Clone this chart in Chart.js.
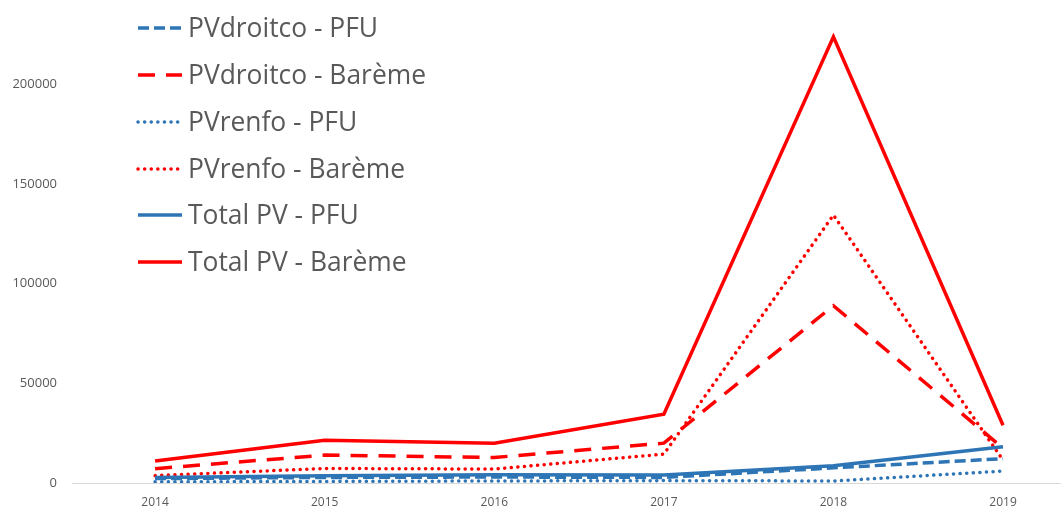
<!DOCTYPE html>
<html>
<head>
<meta charset="utf-8">
<script src="https://cdn.jsdelivr.net/npm/chart.js@4.4.1/dist/chart.umd.min.js"></script>
<style>
    html, body { margin: 0; padding: 0; background: #fff; }
    #wrap { width: 1061px; height: 509px; position: relative; }
</style>
</head>
<body>
<div id="wrap"><canvas id="myChart"></canvas></div>
<script>
const years = ['2014', '2015', '2016', '2017', '2018', '2019'];
const yTicks = [0, 50000, 100000, 150000, 200000];

const seriesNames = [
    'PVdroitco - PFU',
    'PVdroitco - Barème',
    'PVrenfo - PFU',
    'PVrenfo - Barème',
    'Total PV - PFU',
    'Total PV - Barème'
];

const droitcoPFU = [2200, 2800, 3000, 2800, 7600, 12200];
const droitcoBareme = [7200, 14000, 12800, 20000, 89000, 17500];
const renfoPFU = [600, 800, 1000, 1200, 1000, 6000];
const renfoBareme = [3700, 7300, 7000, 14500, 134500, 11500];
const totalPFU = [2800, 3700, 4200, 4000, 8700, 18200];
const totalBareme = [11000, 21500, 20000, 34500, 224000, 29000];

const blue = '#2E75B6';
const red = '#FF0000';
const textGray = '#595959';

function pts(arr) {
    return arr.map(function (v, i) { return {x: i, y: v}; });
}

const ctx = document.getElementById('myChart');

// legend drawn inside the plot, Excel style
const insideLegend = {
    id: 'insideLegend',
    afterDraw: function (chart) {
        const c = chart.ctx;
        const rowY = [28, 75, 122, 169, 215, 262];
        c.save();
        c.font = '27px "Open Sans"';
        const sx = 238 / c.measureText('PVdroitco - Barème').width;
        chart.data.datasets.forEach(function (ds, i) {
            const y = rowY[i];
            c.beginPath();
            c.strokeStyle = ds.borderColor;
            c.lineWidth = ds.borderWidth;
            c.lineCap = ds.borderCapStyle || 'butt';
            c.setLineDash(ds.legendDash || []);
            c.moveTo(138, y);
            c.lineTo(182, y);
            c.stroke();
            c.setLineDash([]);
            c.fillStyle = textGray;
            c.textBaseline = 'middle';
            c.save();
            c.translate(188, y + 1);
            c.scale(sx, 1);
            c.fillText(ds.label, 0, 0);
            c.restore();
        });
        c.restore();
    }
};

const myChart = new Chart(ctx, {
    type: 'line',
    data: {
        datasets: [{
            label: seriesNames[0],
            data: pts(droitcoPFU),
            borderColor: blue,
            borderWidth: 3.5,
            borderDash: [11, 5],
            legendDash: [11, 5],
            order: 5
        }, {
            label: seriesNames[1],
            data: pts(droitcoBareme),
            borderColor: red,
            borderWidth: 3.5,
            borderDash: [17, 11],
            legendDash: [17, 11],
            order: 4
        }, {
            label: seriesNames[2],
            data: pts(renfoPFU),
            borderColor: blue,
            borderWidth: 3.5,
            borderDash: [0.1, 6.5],
            legendDash: [0.1, 6.5],
            borderCapStyle: 'round',
            order: 3
        }, {
            label: seriesNames[3],
            data: pts(renfoBareme),
            borderColor: red,
            borderWidth: 3.5,
            borderDash: [0.1, 6.5],
            legendDash: [0.1, 6.5],
            borderCapStyle: 'round',
            order: 2
        }, {
            label: seriesNames[4],
            data: pts(totalPFU),
            borderColor: blue,
            borderWidth: 3.5,
            order: 1
        }, {
            label: seriesNames[5],
            data: pts(totalBareme),
            borderColor: red,
            borderWidth: 3.5,
            order: 0
        }]
    },
    options: {
        responsive: true,
        maintainAspectRatio: false,
        animation: false,
        elements: {
            point: { radius: 0 },
            line: { tension: 0 }
        },
        layout: {
            padding: { top: 3, right: 1, left: 0, bottom: 0 }
        },
        plugins: {
            legend: { display: false },
            tooltip: { enabled: false }
        },
        scales: {
            x: {
                type: 'linear',
                min: -0.49,
                max: 5.336,
                grid: { display: false, drawTicks: false },
                border: { display: true, color: '#D9D9D9', width: 1 },
                afterBuildTicks: function (scale) {
                    scale.ticks = years.map(function (y, i) { return {value: i}; });
                },
                afterFit: function (scale) { scale.height = 26; },
                ticks: {
                    padding: 12,
                    color: textGray,
                    font: { family: 'Open Sans', size: 12 },
                    maxRotation: 0,
                    autoSkip: false,
                    callback: function (v) { return years[v]; }
                }
            },
            y: {
                min: 0,
                max: 231000,
                grid: { display: false, drawTicks: false },
                border: { display: false },
                afterBuildTicks: function (scale) {
                    scale.ticks = yTicks.map(function (v) { return {value: v}; });
                },
                afterFit: function (scale) { scale.width = 72; },
                ticks: {
                    padding: 15,
                    color: textGray,
                    font: { family: 'Open Sans', size: 13 },
                    callback: function (v) { return String(v); }
                }
            }
        }
    },
    plugins: [insideLegend]
});
</script>
</body>
</html>
